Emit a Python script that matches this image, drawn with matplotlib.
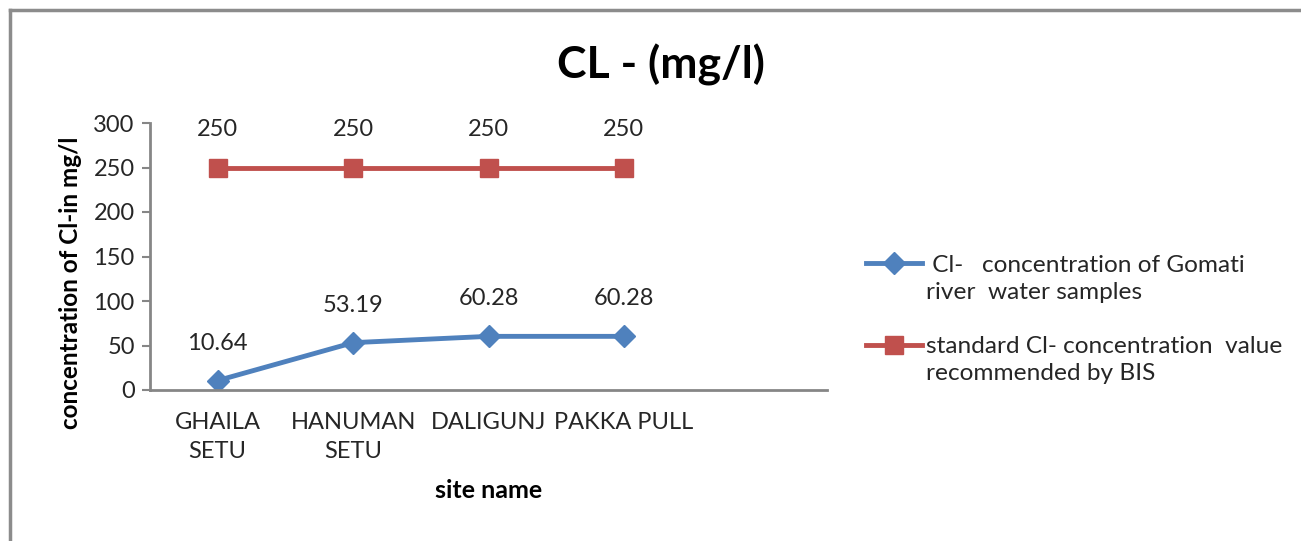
import matplotlib.pyplot as plt
from matplotlib.lines import Line2D

plt.rcParams['font.family'] = ['Lato', 'DejaVu Sans']

sites = ['GHAILA\nSETU', 'HANUMAN\nSETU', 'DALIGUNJ', 'PAKKA PULL', '']
cl_gomati = [10.64, 53.19, 60.28, 60.28]
cl_bis = [250, 250, 250, 250]
y_ticks = [0, 50, 100, 150, 200, 250, 300]
series_names = [' Cl-   concentration of Gomati\nriver  water samples',
                'standard Cl- concentration  value\nrecommended by BIS']

blue = '#4F81BD'
red = '#C0504D'
grey = '#868686'
txt = '#262626'

W, H = 1301, 541
fig = plt.figure(figsize=(W / 100, H / 100), dpi=100)
ax = fig.add_axes([150 / W, 1 - 390 / H, 677 / W, 267 / H])

x = list(range(len(cl_gomati)))
styles = [(cl_gomati, blue, 'D', 11), (cl_bis, red, 's', 13)]
for vals, c, m, ms in styles:
    ax.plot(x, vals, color=c, lw=3.5, marker=m, ms=ms)
    # value labels above each point
    for xi, v in zip(x, vals):
        ax.annotate(f'{v:g}', (xi, v), xytext=(0, 27), textcoords='offset points',
                    ha='center', va='center', fontsize=17, color=txt)

ax.set_xlim(-0.5, len(sites) - 0.5)
ax.set_ylim(0, 300)
ax.set_yticks(y_ticks)
ax.set_xticks(range(len(sites)))
ax.set_xticklabels(sites, fontsize=17, color=txt, linespacing=1.45)
ax.tick_params(axis='x', length=0, pad=16)
ax.tick_params(axis='y', length=6, width=1.5, color=grey, labelsize=17,
               labelcolor=txt, pad=5)

for s in ['top', 'right']:
    ax.spines[s].set_visible(False)
for s in ['left', 'bottom']:
    ax.spines[s].set_color(grey)
    ax.spines[s].set_linewidth(2)

ax.set_xlabel('site name', fontsize=18, fontweight='bold', labelpad=12)
ax.set_ylabel('concentration of Cl-in mg/l', fontsize=17.5, fontweight='bold',
              labelpad=8, y=0.40)
fig.text(661 / W, 1 - 65 / H, 'CL - (mg/l)', ha='center', va='center',
         fontsize=32, fontweight='bold')

# legend, handle sits on the first line of each label
leg_rows = [(263, 279), (345, 360)]
for (vals, c, m, ms), name, (hy, ty) in zip(styles, series_names, leg_rows):
    fig.add_artist(Line2D([866 / W, 922 / W], [1 - hy / H] * 2, color=c, lw=3.5,
                          transform=fig.transFigure))
    fig.add_artist(Line2D([894 / W], [1 - hy / H], color=c, marker=m, ms=ms,
                          transform=fig.transFigure))
    fig.text(926 / W, 1 - ty / H, name, ha='left', va='center', fontsize=17.6,
             color=txt, linespacing=1.3)

# chart area border (top and left edges)
fig.add_artist(Line2D([10 / W, 1.0], [1 - 10 / H] * 2, color='#8c8c8c', lw=2.5,
                      transform=fig.transFigure))
fig.add_artist(Line2D([10 / W] * 2, [0.0, 1 - 10 / H], color='#8c8c8c', lw=2.5,
                      transform=fig.transFigure))

fig.savefig('out.png', dpi=100, facecolor='white')
